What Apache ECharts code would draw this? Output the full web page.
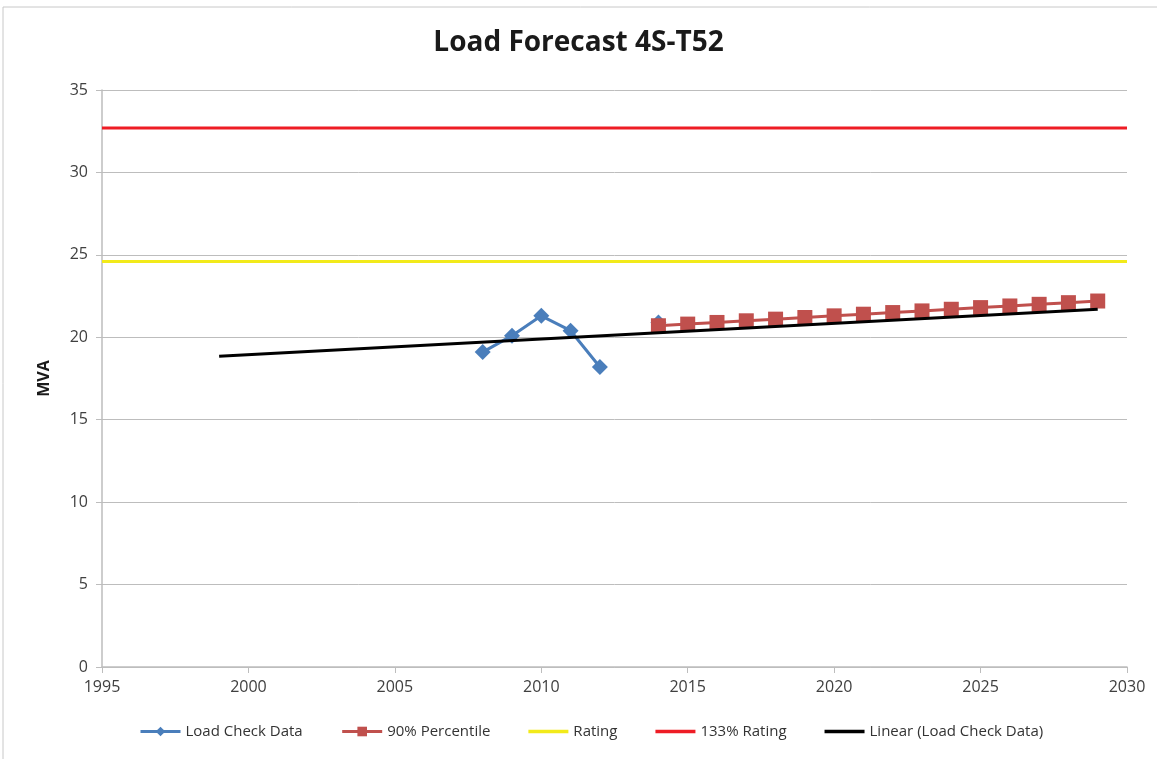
<!DOCTYPE html>
<html>
<head>
<meta charset="utf-8">
<script src="https://cdn.jsdelivr.net/npm/echarts@6/dist/echarts.min.js"></script>
<style>
html,body{margin:0;padding:0;background:#fff;}
#chart{width:1157px;height:759px;}
</style>
</head>
<body>
<div id="chart"></div>
<script>
const titleText = 'Load Forecast 4S-T52';
const yAxisName = 'MVA';
const loadYears = [2008, 2009, 2010, 2011, 2012, 2013, 2014];
const loadValues = [19.1, 20.1, 21.3, 20.4, 18.2, null, 20.9];
const pctYears = [2014, 2015, 2016, 2017, 2018, 2019, 2020, 2021, 2022, 2023, 2024, 2025, 2026, 2027, 2028, 2029];
const pctValues = [20.7, 20.8, 20.9, 21.0, 21.1, 21.2, 21.3, 21.4, 21.5, 21.6, 21.7, 21.8, 21.9, 22.0, 22.1, 22.2];
const ratingYears = [1995, 2030];
const ratingValues = [24.6, 24.6];
const rating133Values = [32.7, 32.7];
const trendYears = [1999, 2029];
const trendValues = [18.85, 21.7];
const seriesNames = ['Load Check Data', '90% Percentile', 'Rating', '133% Rating', 'Linear (Load Check Data)'];

const pair = (xs, ys) => xs.map((x, i) => [x, ys[i]]);
const font = '"Open Sans", "Liberation Sans", sans-serif';
const lineIcon = 'path://M0,0H40V3.5H0Z';

const chart = echarts.init(document.getElementById('chart'));
chart.setOption({
  animation: false,
  backgroundColor: '#fff',
  textStyle: { fontFamily: font },
  title: {
    text: titleText,
    left: 'center',
    top: 24,
    textStyle: { fontSize: 28, fontWeight: 'bold', color: '#1a1a1a', fontFamily: font }
  },
  graphic: [{
    type: 'rect',
    shape: { x: 3, y: 7, width: 1160, height: 760 },
    style: { fill: 'none', stroke: '#c8c8c8', lineWidth: 1 },
    silent: true
  }],
  grid: { left: 102, right: 30, top: 90, bottom: 92 },
  legend: {
    bottom: 15,
    left: 134,
    itemGap: 38,
    itemWidth: 40,
    itemHeight: 12,
    lineStyle: { width: 3 },
    textStyle: { fontSize: 15, color: '#333', fontFamily: font },
    data: [
      { name: seriesNames[0] },
      { name: seriesNames[1] },
      { name: seriesNames[2], icon: lineIcon },
      { name: seriesNames[3], icon: lineIcon },
      { name: seriesNames[4], icon: lineIcon }
    ]
  },
  xAxis: {
    type: 'value',
    min: 1995, max: 2030, interval: 5,
    axisLine: { lineStyle: { color: '#bdbdbd', width: 1.5 } },
    axisTick: { show: true, length: 6, lineStyle: { color: '#bdbdbd' } },
    axisLabel: { fontSize: 16, color: '#404040', margin: 12, fontFamily: font, formatter: v => String(v) },
    splitLine: { show: false }
  },
  yAxis: {
    type: 'value',
    min: 0, max: 35, interval: 5,
    name: yAxisName,
    nameLocation: 'middle',
    nameGap: 50,
    nameTextStyle: { fontSize: 16, fontWeight: 'bold', color: '#1a1a1a', fontFamily: font },
    axisLine: { show: true, lineStyle: { color: '#bdbdbd', width: 1.5 } },
    axisTick: { show: true, length: 6, lineStyle: { color: '#bdbdbd' } },
    axisLabel: { fontSize: 16, color: '#404040', margin: 14, fontFamily: font },
    splitLine: { lineStyle: { color: '#bdbdbd', width: 1 } }
  },
  series: [
    {
      name: seriesNames[0], type: 'line', data: pair(loadYears, loadValues),
      symbol: 'diamond', symbolSize: 16, connectNulls: false,
      lineStyle: { color: '#4a7ebb', width: 3 },
      itemStyle: { color: '#4a7ebb' }, z: 3
    },
    {
      name: seriesNames[1], type: 'line', data: pair(pctYears, pctValues),
      symbol: 'rect', symbolSize: 15,
      lineStyle: { color: '#c0504d', width: 3 },
      itemStyle: { color: '#c0504d' }, z: 4
    },
    {
      name: seriesNames[2], type: 'line', data: pair(ratingYears, ratingValues),
      symbol: 'none', lineStyle: { color: '#f2ea1a', width: 3 },
      itemStyle: { color: '#f2ea1a' }
    },
    {
      name: seriesNames[3], type: 'line', data: pair(ratingYears, rating133Values),
      symbol: 'none', lineStyle: { color: '#ee1c25', width: 3 },
      itemStyle: { color: '#ee1c25' }
    },
    {
      name: seriesNames[4], type: 'line', data: pair(trendYears, trendValues),
      symbol: 'none', lineStyle: { color: '#000', width: 3 },
      itemStyle: { color: '#000' }, z: 5
    }
  ]
});
</script>
</body>
</html>
